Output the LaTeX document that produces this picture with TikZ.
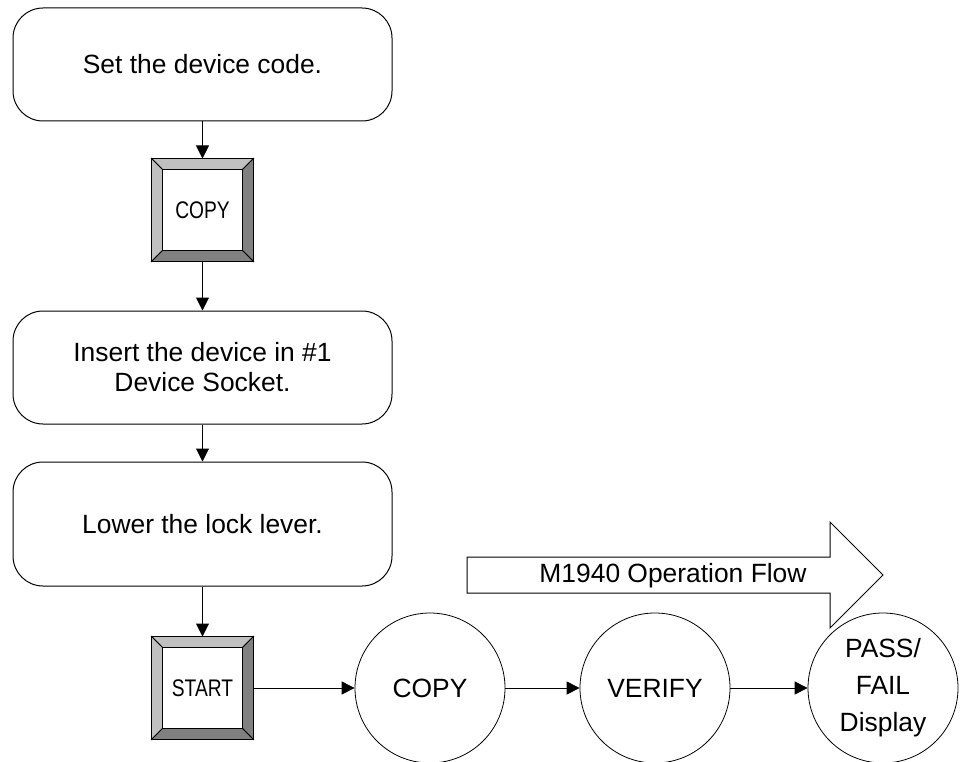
\documentclass[tikz,border=0pt]{standalone}
\usepackage{fontspec}
\setmainfont{Liberation Sans}
\newfontfamily\narrowfont[FakeStretch=0.8]{Liberation Sans}
\usetikzlibrary{arrows.meta,calc}
\definecolor{bevlight}{HTML}{C0C0C0}
\definecolor{bevdark}{HTML}{808080}
\tikzset{
  stepbox/.style={draw=black, line width=1pt, rounded corners=30pt, minimum width=379pt, align=center, font=\fontsize{26.4}{30}\selectfont},
  btn/.style={draw=black, fill=white, line width=1pt, minimum width=101pt, minimum height=102pt, inner sep=0pt, font=\narrowfont\fontsize{24}{28}\selectfont},
  stage/.style={circle, draw=black, line width=0.8pt, minimum size=150pt, inner sep=0pt, align=center, font=\fontsize{26.4}{37}\selectfont},
  conn/.style={draw=black, line width=1pt, -{Triangle[length=13pt, width=13pt]}},
}
\newcommand\bevbtn[3]{%
  \node[btn] (#1) at #2 {#3};
  \path[draw=black, line width=0.8pt, fill=bevlight] (#1.north west) -- (#1.north east) -- ($(#1.north east)+(-11,11)$) -- ($(#1.north west)+(11,11)$) -- cycle;
  \path[draw=black, line width=0.8pt, fill=bevlight] (#1.north west) -- ($(#1.north west)+(11,11)$) -- ($(#1.south west)+(11,-11)$) -- (#1.south west) -- cycle;
  \path[draw=black, line width=0.8pt, fill=bevdark] (#1.north east) -- (#1.south east) -- ($(#1.south east)+(-11,-11)$) -- ($(#1.north east)+(-11,11)$) -- cycle;
  \path[draw=black, line width=0.8pt, fill=bevdark] (#1.south west) -- ($(#1.south west)+(11,-11)$) -- ($(#1.south east)+(-11,-11)$) -- (#1.south east) -- cycle;
}
\begin{document}
\begin{tikzpicture}[x=1pt, y=-1pt]
\useasboundingbox (0,0) rectangle (963,762);
\clip (0,0) rectangle (963,762);
\node[stepbox, minimum height=113pt] (set) at (202.5,64.5) {Set the device code.};
\bevbtn{copybtn}{(202.5,210)}{COPY}
\node[stepbox, minimum height=113pt] (insert) at (202.5,367.5) {Insert the device in \#1\\Device Socket.};
\node[stepbox, minimum height=124pt] (lower) at (202.5,524) {Lower the lock lever.};
\bevbtn{startbtn}{(202.5,688)}{START}
\node[stage] (copy) at (430,688) {COPY};
\node[stage] (verify) at (655,688) {VERIFY};
\node[stage] (pass) at (883,688) {PASS/\\FAIL\\Display};
\path[draw=black, line width=1pt, fill=white] (467,557) -- (830,557) -- (830,522) -- (883,575) -- (830,628) -- (830,593) -- (467,593) -- cycle;
\node[font=\fontsize{26.4}{30}\selectfont] (flow) at (673,576) {M1940 Operation Flow};
\draw[conn] (set.south) -- (copybtn.north);
\draw[conn] (copybtn.south) -- (insert.north);
\draw[conn] (insert.south) -- (lower.north);
\draw[conn] (lower.south) -- (startbtn.north);
\draw[conn] (startbtn.east) -- (copy.west);
\draw[conn] (copy.east) -- (verify.west);
\draw[conn] (verify.east) -- (pass.west);
\end{tikzpicture}
\end{document}
